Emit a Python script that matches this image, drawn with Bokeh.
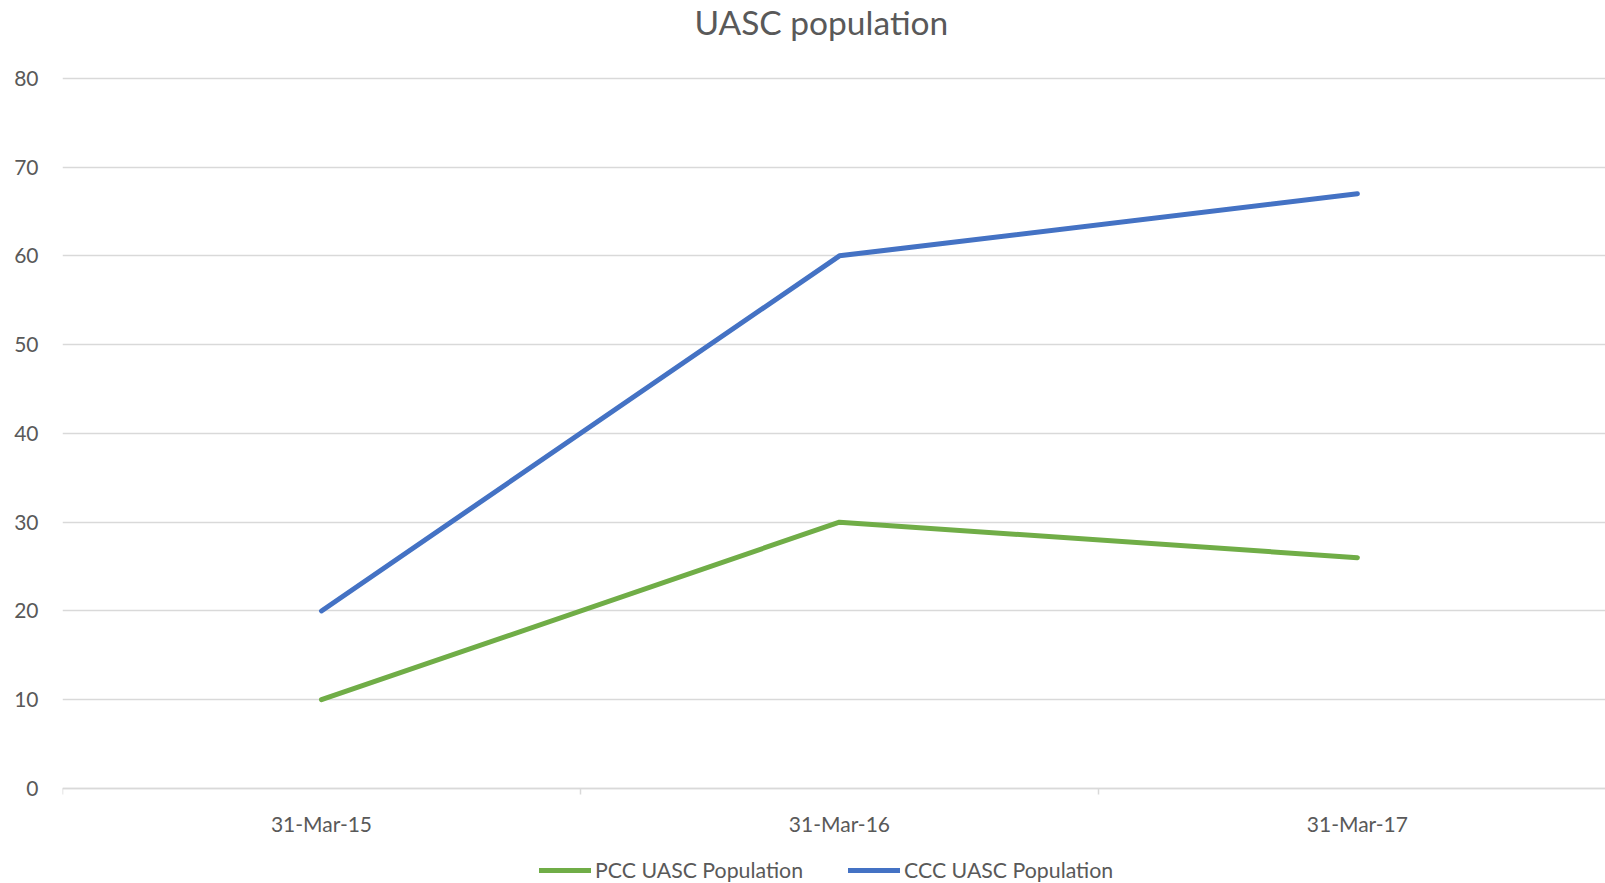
from bokeh.plotting import figure
from bokeh.models import FixedTicker, Legend, LegendItem, Range1d, Label
from bokeh.embed import file_html
from bokeh.resources import INLINE

categories = ["31-Mar-15", "31-Mar-16", "31-Mar-17"]
pcc_values = [10, 30, 26]
ccc_values = [20, 60, 67]
y_ticks = [0, 10, 20, 30, 40, 50, 60, 70, 80]
title_text = "UASC population"

FONT = "Lato"
TXT = "#595959"
GRID = "#d9d9d9"

xs = list(range(len(categories)))

# frame spans whole canvas height; px per unit = 8.878
PPU = (788.0 - 77.8) / 80.0
y_top = 80 + 77.8 / PPU
y_bot = -(883 - 788.0) / PPU

p = figure(width=1605, height=883, output_backend="svg", toolbar_location=None,
           x_range=Range1d(-0.5, 2.479), y_range=Range1d(y_bot, y_top),
           min_border_left=62, min_border_right=0, min_border_top=0, min_border_bottom=0)
p.outline_line_color = None
p.background_fill_color = "white"
p.border_fill_color = "white"

# axes
xa = p.xaxis[0]
xa.fixed_location = 0
xa.ticker = FixedTicker(ticks=xs, minor_ticks=[-0.5, 0.5, 1.5, 2.5])
xa.major_label_overrides = {i: c for i, c in enumerate(categories)}
xa.axis_line_color = GRID
xa.axis_line_width = 1.5
xa.major_tick_line_color = None
xa.major_tick_out = 0
xa.major_tick_in = 0
xa.minor_tick_line_color = GRID
xa.minor_tick_line_width = 1.5
xa.minor_tick_out = 6
xa.minor_tick_in = 0
xa.major_label_standoff = 16
xa.major_label_text_font = FONT
xa.major_label_text_font_size = "21px"
xa.major_label_text_color = TXT

ya = p.yaxis[0]
ya.ticker = FixedTicker(ticks=y_ticks)
ya.axis_line_color = None
ya.major_tick_line_color = None
ya.minor_tick_line_color = None
ya.major_tick_out = 0
ya.major_label_standoff = 24
ya.major_label_text_font = FONT
ya.major_label_text_font_size = "21px"
ya.major_label_text_color = TXT

p.xgrid.grid_line_color = None
p.ygrid.ticker = FixedTicker(ticks=y_ticks)
p.ygrid.grid_line_color = GRID
p.ygrid.grid_line_width = 1.5

r_pcc = p.line(xs, pcc_values, line_color="#70AD47", line_width=5, line_cap="round", line_join="round")
r_ccc = p.line(xs, ccc_values, line_color="#4472C4", line_width=5, line_cap="round", line_join="round")

legend = Legend(items=[LegendItem(label="PCC UASC Population", renderers=[r_pcc]),
                       LegendItem(label="CCC UASC Population", renderers=[r_ccc])],
                orientation="horizontal", location=(477, 0),
                padding=0, margin=0, spacing=45, glyph_width=52, label_standoff=4,
                border_line_color=None, background_fill_alpha=0,
                label_text_font=FONT, label_text_font_size="21.3px", label_text_color=TXT)
p.add_layout(legend, "center")

title = Label(x=0.965, y=80 + (77.8 - 21.0) / PPU, text=title_text,
              text_align="center", text_baseline="alphabetic", text_font=FONT,
              text_font_size="33.5px", text_color=TXT)
p.add_layout(title)

open("out.html", "w").write(file_html(p, INLINE))
